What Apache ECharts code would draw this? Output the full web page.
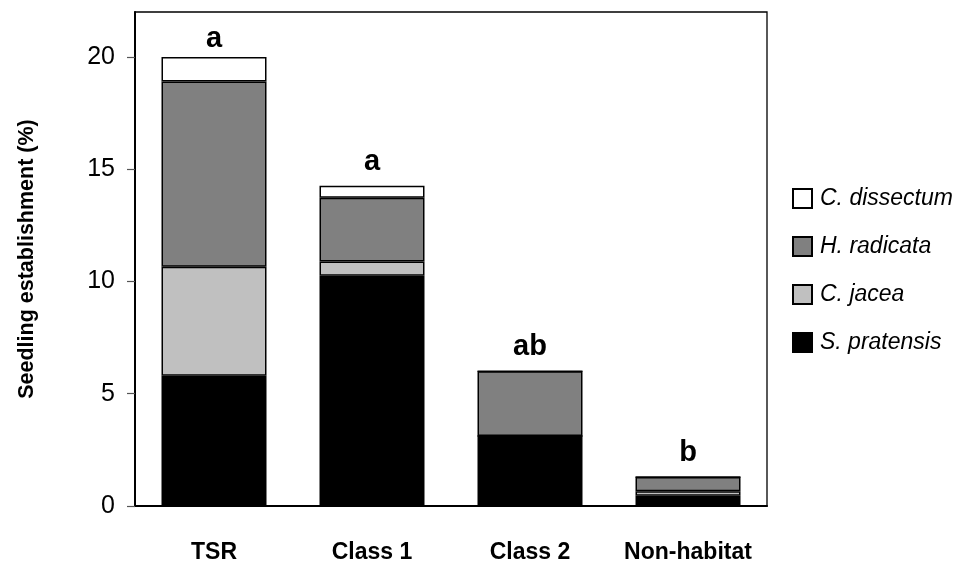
<!DOCTYPE html>
<html>
<head>
<meta charset="utf-8">
<script src="https://cdn.jsdelivr.net/npm/echarts@6/dist/echarts.min.js"></script>
<style>html,body{margin:0;padding:0;background:#fff;}#c{width:959px;height:564px;}</style>
</head>
<body>
<div id="c"></div>
<script>
const categories = ['TSR', 'Class 1', 'Class 2', 'Non-habitat'];
const sPratensis = [5.8, 10.25, 3.12, 0.46];
const cJacea = [4.85, 0.64, 0, 0.2];
const hRadicata = [8.25, 2.84, 2.88, 0.63];
const cDissectum = [1.1, 0.53, 0, 0];
const letters = ['a', 'a', 'ab', 'b'];
const letterY = [20.41, 14.96, 6.72, 1.96];
const yTicks = [0, 5, 10, 15, 20];

const arial = "'Liberation Sans', Arial, sans-serif";

function barSeries(name, data, color) {
  return {
    name: name, type: 'bar', stack: 'total', data: data, barWidth: 105,
    itemStyle: { color: color, borderColor: '#000', borderWidth: 1.5 },
    emphasis: { disabled: true }
  };
}

const chart = echarts.init(document.getElementById('c'));
chart.setOption({
  animation: false,
  grid: { left: 135, right: 192, top: 12, bottom: 58, show: true, borderColor: '#000', borderWidth: 1.3, backgroundColor: 'transparent' },
  legend: {
    orient: 'vertical', left: 787, top: 181,
    data: ['C. dissectum', 'H. radicata', 'C. jacea', 'S. pratensis'],
    icon: 'rect', itemWidth: 19, itemHeight: 19, itemGap: 23,
    textStyle: { fontFamily: arial, fontStyle: 'italic', fontSize: 23, color: '#000', lineHeight: 25, padding: [0, 0, 0, 3] }
  },
  xAxis: {
    type: 'category', data: categories,
    axisLine: { lineStyle: { color: '#000', width: 2 } },
    axisTick: { show: false },
    axisLabel: { interval: 0, fontFamily: arial, fontWeight: 'bold', fontSize: 23, color: '#000', margin: 35 }
  },
  yAxis: {
    type: 'value', min: 0, max: 22, interval: 5,
    name: 'Seedling establishment (%)', nameLocation: 'middle', nameGap: 97,
    nameTextStyle: { fontFamily: arial, fontWeight: 'bold', fontSize: 21.5, color: '#000' },
    axisLine: { show: true, lineStyle: { color: '#000', width: 2 } },
    axisTick: { show: true, length: 8, customValues: yTicks, lineStyle: { color: '#555', width: 1.2 } },
    splitLine: { show: false },
    axisLabel: { fontFamily: arial, fontSize: 25, color: '#000', margin: 20, customValues: yTicks }
  },
  series: [
    barSeries('S. pratensis', sPratensis, '#000000'),
    barSeries('C. jacea', cJacea, '#c0c0c0'),
    barSeries('H. radicata', hRadicata, '#808080'),
    barSeries('C. dissectum', cDissectum, '#ffffff'),
    {
      type: 'scatter', symbolSize: 0, silent: true,
      itemStyle: { opacity: 1 },
      data: categories.map((c, i) => [c, letterY[i]]),
      label: { show: true, position: 'top', distance: -6, formatter: p => letters[p.dataIndex],
        fontFamily: arial, fontWeight: 'bold', fontSize: 29, color: '#000', opacity: 1 }
    }
  ]
});
</script>
</body>
</html>
